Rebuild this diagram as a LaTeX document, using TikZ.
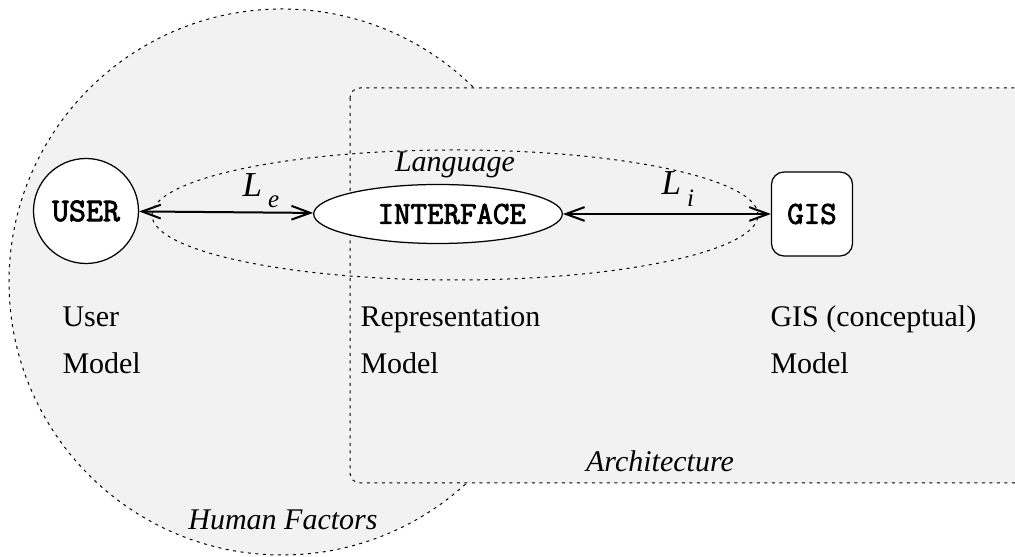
\documentclass[tikz,border=0pt]{standalone}
\usepackage{fontspec}
\setmainfont{Liberation Serif}
\newfontfamily\boxfont[FakeBold=2.6]{Latin Modern Mono}
\usetikzlibrary{arrows.meta,shapes.geometric}
\definecolor{areagray}{gray}{0.95}

\begin{document}
\begin{tikzpicture}[
    x=0.4pt, y=-0.4pt,
    every node/.style = {inner sep=0pt, font=\fontsize{12}{14}\selectfont},
    zone/.style = {draw, fill=areagray, line width=0.4pt, dash pattern=on 1.2pt off 1.8pt},
    outline/.style = {draw, line width=0.4pt, dash pattern=on 1.2pt off 1.8pt},
    actor/.style = {draw, fill=white, line width=0.5pt, font=\fontsize{12.8}{14}\boxfont},
    tag/.style = {anchor=base, font=\fontsize{12}{14}\selectfont\itshape},
    link/.style = {line width=0.8pt, {Straight Barb[length=7.5pt,width=5.5pt]}-{Straight Barb[length=7.5pt,width=5.5pt]}}
    ]
    \clip (0,0) rectangle (1015,557);

    % human factors and architecture areas
    \draw[zone] (282,282) circle[radius=109.2pt];
    \draw[zone, rounded corners=4pt] (350,88) rectangle (1030,483);
    % language area
    \draw[outline] (455,215) ellipse[x radius=121.2pt, y radius=26pt];

    \node[actor, circle, minimum size=42pt, font=\fontsize{13.2}{15}\boxfont] (user) at (86,211) {USER};
    \node[actor, ellipse, minimum width=90.8pt, minimum height=23.6pt] (iface) at (438,214) {\hspace*{11pt}INTERFACE};
    \node[actor, rounded corners=5pt, minimum width=32.4pt, minimum height=33.6pt] (gis) at (812,214) {GIS};

    \draw[link] (user) -- (iface);
    \draw[link] (iface) -- (gis);

    \node[anchor=base west, font=\fontsize{14}{16}\selectfont] (le) at (242,197) {\itshape L\hspace{2.5pt}\raisebox{-4.4pt}{\fontsize{10}{11}\selectfont e}};
    \node[anchor=base west, font=\fontsize{14}{16}\selectfont] (li) at (661,195) {\itshape L\hspace{2.5pt}\raisebox{-4.8pt}{\fontsize{10}{11}\selectfont i}};
    \node[tag] (lang) at (455,172) {Language};
    \node[tag] (arch) at (660,472) {Architecture};
    \node[tag] (human) at (283,530) {Human Factors};

    % model names
    \node[anchor=base west] (um1) at (62,327) {User};
    \node[anchor=base west] (um2) at (62,374) {Model};
    \node[anchor=base west] (rm1) at (360,327) {Representation};
    \node[anchor=base west] (rm2) at (360,374) {Model};
    \node[anchor=base west] (gm1) at (770,327) {GIS (conceptual)};
    \node[anchor=base west] (gm2) at (770,374) {Model};
\end{tikzpicture}
\end{document}
